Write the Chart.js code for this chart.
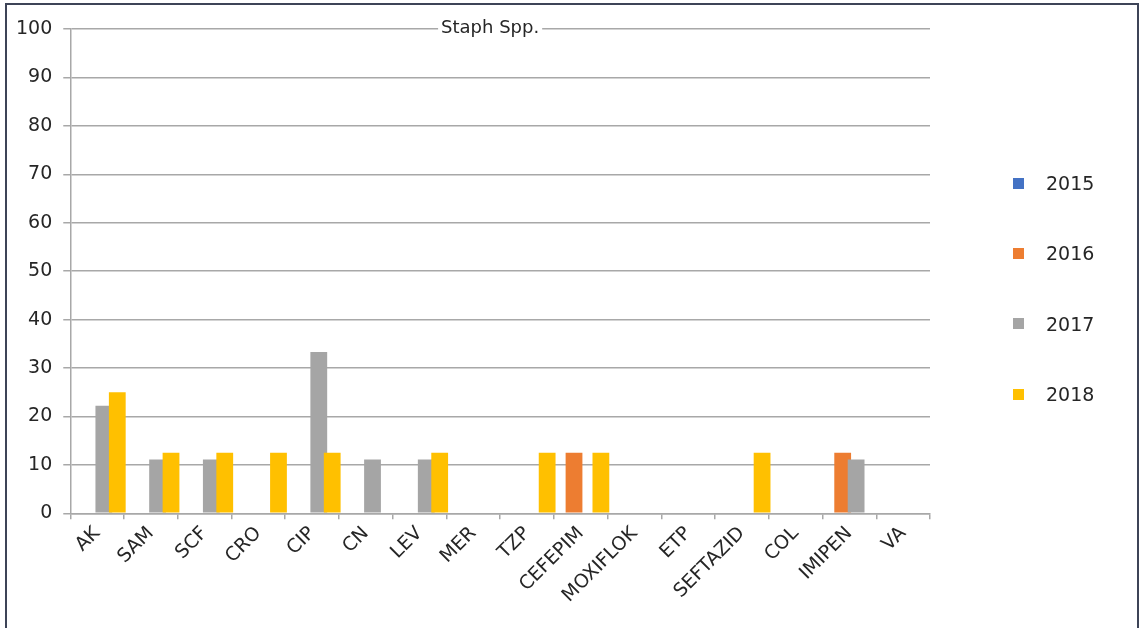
<!DOCTYPE html>
<html>
<head>
<meta charset="utf-8">
<title>Staph Spp.</title>
<script src="https://cdn.jsdelivr.net/npm/chart.js@4"></script>
<style>
  html, body { margin: 0; padding: 0; background: #fff; overflow: hidden; }
  .frame {
    position: absolute; left: 5px; top: 3px;
    width: 1130px; height: 700px;
    border: 2px solid #3d4457;
  }
  .chart-box { position: absolute; left: 0; top: 0; width: 1130px; height: 623px; }
  .legend {
    position: absolute; left: 1006px; top: 143px;
    font-family: 'DejaVu Sans', sans-serif; font-size: 19px; color: #262626;
  }
  .legend-row { height: 70.3px; display: flex; align-items: center; }
  .legend-box { width: 11px; height: 11px; margin-right: 22px; }
</style>
</head>
<body>
<div class="frame">
  <div class="chart-box"><canvas id="staphChart"></canvas></div>
  <div class="legend" id="legend"></div>
</div>
<script>
const categories = ['AK', 'SAM', 'SCF', 'CRO', 'CIP', 'CN', 'LEV', 'MER', 'TZP',
  'CEFEPIM', 'MOXIFLOK', 'ETP', 'SEFTAZID', 'COL', 'IMIPEN', 'VA'];
const years = ['2015', '2016', '2017', '2018'];
const colors = ['#4472c4', '#ed7d31', '#a5a5a5', '#ffc000'];

const values2015 = [null, null, null, null, null, null, null, null, null, null, null, null, null, null, null, null];
const values2016 = [null, null, null, null, null, null, null, null, null, 12.5, null, null, null, null, 12.5, null];
const values2017 = [22.2, 11.1, 11.1, null, 33.3, 11.1, 11.1, null, null, null, null, null, null, null, 11.1, null];
const values2018 = [25, 12.5, 12.5, 12.5, 12.5, null, 12.5, null, 12.5, 12.5, null, null, 12.5, null, null, null];

const yTicks = [0, 10, 20, 30, 40, 50, 60, 70, 80, 90, 100];

const chartTitle = 'Staph Spp.';
const font = 'DejaVu Sans';
const gridColor = '#a8a8a8';
const textColor = '#262626';

// bars overlap inside a group, so the later year has to sit on top
const drawForward = {
  id: 'drawForward',
  beforeDatasetsDraw(chart) {
    chart.getSortedVisibleDatasetMetas().forEach(meta => meta.controller.draw());
    return false;
  }
};

// title sits on the top gridline with a white patch behind it
const inlineTitle = {
  id: 'inlineTitle',
  afterDraw(chart) {
    const { ctx, chartArea } = chart;
    ctx.save();
    ctx.font = '18px ' + font;
    const w = ctx.measureText(chartTitle).width;
    const cx = (chartArea.left + chartArea.right) / 2 - 10;
    const cy = chartArea.top - 1;
    ctx.fillStyle = '#fff';
    ctx.fillRect(cx - w / 2 - 3, cy - 6, w + 6, 12);
    ctx.fillStyle = textColor;
    ctx.textAlign = 'center';
    ctx.textBaseline = 'middle';
    ctx.fillText(chartTitle, cx, cy);
    ctx.restore();
  }
};

function buildLegend() {
  const el = document.getElementById('legend');
  years.forEach((year, i) => {
    const row = document.createElement('div');
    row.className = 'legend-row';
    const box = document.createElement('span');
    box.className = 'legend-box';
    box.style.background = colors[i];
    const label = document.createElement('span');
    label.textContent = year;
    row.appendChild(box);
    row.appendChild(label);
    el.appendChild(row);
  });
}

function initChart() {
  const series = [values2015, values2016, values2017, values2018];
  const ctx = document.getElementById('staphChart').getContext('2d');
  new Chart(ctx, {
    type: 'bar',
    data: {
      labels: categories,
      datasets: years.map((year, i) => ({
        label: year,
        data: series[i],
        backgroundColor: colors[i],
        borderWidth: 0,
        categoryPercentage: 1,
        barPercentage: 1.25
      }))
    },
    options: {
      responsive: true,
      maintainAspectRatio: false,
      animation: false,
      layout: { padding: { left: -2, top: 24, right: 207, bottom: 18 } },
      plugins: {
        legend: { display: false },
        title: { display: false },
        tooltip: { enabled: false }
      },
      scales: {
        x: {
          grid: {
            display: true,
            drawOnChartArea: false,
            drawTicks: true,
            tickLength: 6,
            color: gridColor,
            lineWidth: 1.5
          },
          border: { display: true, color: gridColor, width: 1.5 },
          ticks: {
            color: textColor,
            font: { family: font, size: 19 },
            minRotation: 45,
            maxRotation: 45,
            autoSkip: false,
            padding: 3
          }
        },
        y: {
          min: 0,
          max: 100,
          afterBuildTicks: scale => { scale.ticks = yTicks.map(v => ({ value: v })); },
          grid: { color: gridColor, lineWidth: 1.5, tickLength: 7 },
          border: { display: true, color: gridColor, width: 1.5 },
          ticks: {
            color: textColor,
            font: { family: font, size: 19 },
            padding: 11
          }
        }
      }
    },
    plugins: [drawForward, inlineTitle]
  });
}

document.addEventListener('DOMContentLoaded', () => {
  buildLegend();
  initChart();
});
</script>
</body>
</html>
